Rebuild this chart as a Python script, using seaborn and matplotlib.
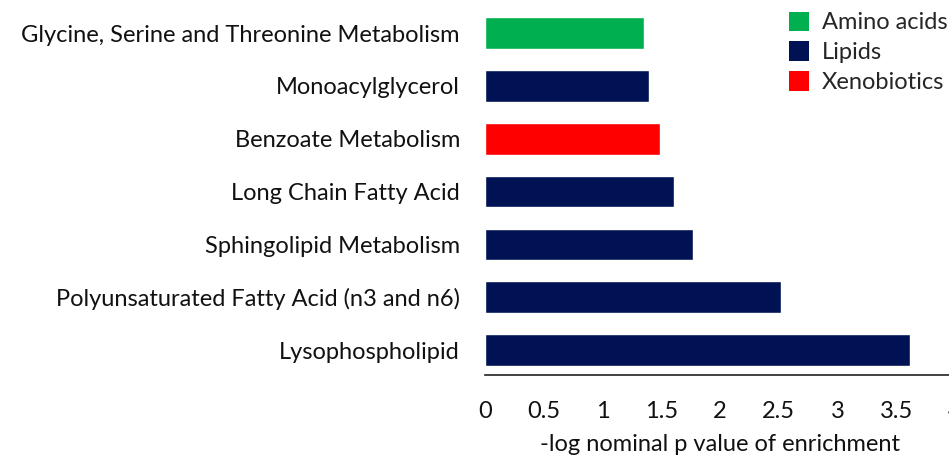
import matplotlib
matplotlib.use("Agg")
import matplotlib.pyplot as plt
from matplotlib.patches import Patch
import pandas as pd
import seaborn as sns

# pathway enrichment values
pathways = [
    "Glycine, Serine and Threonine Metabolism",
    "Monoacylglycerol",
    "Benzoate Metabolism",
    "Long Chain Fatty Acid",
    "Sphingolipid Metabolism",
    "Polyunsaturated Fatty Acid (n3 and n6)",
    "Lysophospholipid",
]
neg_log_p = [1.35, 1.40, 1.49, 1.61, 1.77, 2.52, 3.62]
classes = ["Amino acids", "Lipids", "Xenobiotics", "Lipids", "Lipids", "Lipids", "Lipids"]

class_order = ["Amino acids", "Lipids", "Xenobiotics"]
palette = {"Amino acids": "#00B050", "Lipids": "#001254", "Xenobiotics": "#FF0000"}
xticks = [0, 0.5, 1, 1.5, 2, 2.5, 3, 3.5, 4]

df = pd.DataFrame({"pathway": pathways, "value": neg_log_p, "cls": classes})

sns.set_style("white")
plt.rcParams["font.family"] = ["Lato", "DejaVu Sans"]

fig = plt.figure(figsize=(9.49, 4.55), dpi=100)
ax = fig.add_axes([0.511, 0.1758, 0.4953, 0.8097])

sns.barplot(data=df, x="value", y="pathway", hue="cls", hue_order=class_order,
            palette=palette, order=pathways, dodge=False, width=0.6,
            orient="h", ax=ax, legend=False, saturation=1)

ax.set_xlim(0, 4)
ax.set_ylim(6.47, -0.5)
ax.set_xticks(xticks)
ax.set_xticklabels([f"{t:g}" for t in xticks])
ax.tick_params(axis="x", length=0, pad=19, labelsize=17, colors="#111111")
ax.tick_params(axis="y", length=0, pad=18, labelsize=17, colors="#111111")
ax.set_ylabel("")
ax.set_xlabel("-log nominal p value of enrichment", fontsize=17, labelpad=8,
              color="#111111")

for s in ["top", "right", "left"]:
    ax.spines[s].set_visible(False)
ax.spines["bottom"].set_color("#222222")
ax.spines["bottom"].set_linewidth(1.2)

handles = [Patch(facecolor=palette[c], edgecolor="none", label=c) for c in class_order]
fig.legend(handles=handles, loc="upper left", bbox_to_anchor=(0.826, 0.985),
           frameon=False, fontsize=17, handlelength=0.85, handleheight=0.9,
           handletextpad=0.55, labelspacing=0.33, borderaxespad=0, borderpad=0.2)

fig.savefig("out.png", dpi=100)
